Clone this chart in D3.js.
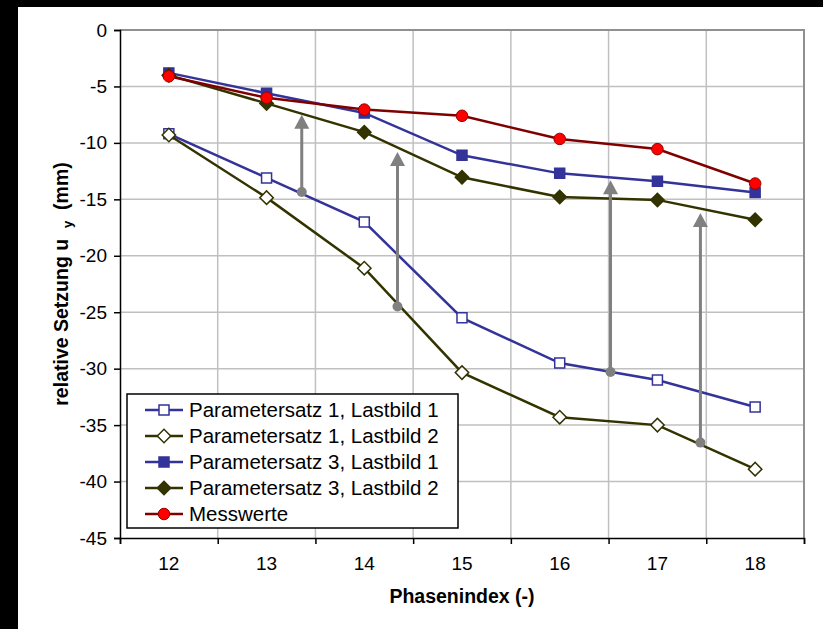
<!DOCTYPE html>
<html>
<head>
<meta charset="utf-8">
<script src="https://cdn.jsdelivr.net/npm/d3@7"></script>
<style>
  html, body { margin: 0; background: #fff; overflow: hidden; }
  svg { display: block; }
</style>
</head>
<body>
<svg id="chart"></svg>
<script>
// Chart data
const phases = [12, 13, 14, 15, 16, 17, 18];
const ps1lb1 = [-9.2, -13.1, -17.0, -25.5, -29.5, -31.0, -33.4];
const ps1lb2 = [-9.3, -14.85, -21.1, -30.35, -34.3, -35.0, -38.9];
const ps3lb1 = [-3.8, -5.6, -7.35, -11.1, -12.7, -13.4, -14.4];
const ps3lb2 = [-4.0, -6.5, -9.05, -13.05, -14.8, -15.05, -16.8];
const messwerte = [-4.1, -6.0, -7.05, -7.6, -9.65, -10.55, -13.6];
const seriesNames = ['Parametersatz 1, Lastbild 1', 'Parametersatz 1, Lastbild 2',
    'Parametersatz 3, Lastbild 1', 'Parametersatz 3, Lastbild 2', 'Messwerte'];
const yTicks = [0, -5, -10, -15, -20, -25, -30, -35, -40, -45];
// arrows: position on phase axis, start value (dot), end value (tip)
const arrowX = [13.36, 14.34, 16.52, 17.44];
const arrowFrom = [-14.35, -24.5, -30.3, -36.55];
const arrowTo = [-7.5, -10.8, -13.3, -16.2];

const width = 823, height = 629;
const margin = { top: 30, right: 19, bottom: 91, left: 120 };

const svg = d3.select('#chart').attr('width', width).attr('height', height);
svg.append('rect').attr('width', width).attr('height', height).attr('fill', '#000');
svg.append('rect').attr('x', 18).attr('y', 7).attr('width', width - 18).attr('height', height - 7).attr('fill', '#fff');

const x = d3.scaleLinear()
    .domain([11.5, 18.5])
    .range([margin.left, width - margin.right]);
const y = d3.scaleLinear()
    .domain([-45, 0])
    .range([height - margin.bottom, margin.top]);
const bounds = d3.range(11.5, 18.6, 1);

// Grid
const grid = svg.append('g').attr('stroke', '#c0c0c0').attr('stroke-width', 1.5);
grid.selectAll('.hg')
    .data(yTicks.filter(d => d > -45 && d < 0))
    .join('line')
    .attr('x1', x(11.5)).attr('x2', x(18.5))
    .attr('y1', d => y(d)).attr('y2', d => y(d));
grid.selectAll('.vg')
    .data(bounds.slice(1, -1))
    .join('line')
    .attr('y1', y(0)).attr('y2', y(-45))
    .attr('x1', d => x(d)).attr('x2', d => x(d));

// plot border top/right
svg.append('path')
    .attr('d', `M${x(11.5)},${y(0)}H${x(18.5)}V${y(-45)}`)
    .attr('fill', 'none').attr('stroke', '#909090').attr('stroke-width', 2);

// Axes
const yAxis = svg.append('g')
    .attr('transform', `translate(${margin.left},0)`)
    .call(d3.axisLeft(y).tickValues(yTicks).tickSize(6).tickPadding(7).tickFormat(d3.format('d')));
yAxis.select('.domain').attr('stroke-width', 1.5);
yAxis.selectAll('.tick line').attr('stroke-width', 1.5);
yAxis.selectAll('text').style('font', '19px "Liberation Sans", Arial, sans-serif').attr('fill', '#000')
    .text(d => d === 0 ? '0' : '-' + Math.abs(d));

const xAxis = svg.append('g')
    .attr('transform', `translate(0,${y(-45)})`)
    .call(d3.axisBottom(x).tickValues(bounds).tickSize(6).tickFormat(''));
xAxis.select('.domain').attr('stroke-width', 1.5);
xAxis.selectAll('.tick line').attr('stroke-width', 1.5);

svg.append('g')
    .selectAll('text')
    .data(phases)
    .join('text')
    .attr('x', d => x(d))
    .attr('y', 570)
    .attr('text-anchor', 'middle')
    .style('font', '19px "Liberation Sans", Arial, sans-serif')
    .text(d => d);

// Axis titles
svg.append('text')
    .attr('x', (x(11.5) + x(18.5)) / 2)
    .attr('y', 603)
    .attr('text-anchor', 'middle')
    .style('font', 'bold 19.5px "Liberation Sans", Arial, sans-serif')
    .text('Phasenindex (-)');
const yt = svg.append('text')
    .attr('transform', `translate(68,${(y(0) + y(-45)) / 2}) rotate(-90)`)
    .attr('text-anchor', 'middle')
    .style('font', 'bold 19.5px "Liberation Sans", Arial, sans-serif')
    .attr('xml:space', 'preserve');
yt.append('tspan').text('relative Setzung u\u00a0\u00a0');
yt.append('tspan').attr('font-size', '13px').attr('dy', 4).text('y');
yt.append('tspan').attr('dy', -4).text('\u00a0\u00a0(mm)');

// Series
const series = [
    { name: seriesNames[0], values: ps1lb1, color: '#333399', marker: 'square', fill: '#fff' },
    { name: seriesNames[1], values: ps1lb2, color: '#333300', marker: 'diamond', fill: '#fff' },
    { name: seriesNames[2], values: ps3lb1, color: '#333399', marker: 'square', fill: '#333399' },
    { name: seriesNames[3], values: ps3lb2, color: '#333300', marker: 'diamond', fill: '#333300' },
    { name: seriesNames[4], values: messwerte, color: '#800000', marker: 'circle', fill: '#ff0000' }
];
const sizes = { square: 100, diamond: 90, circle: 105 };

function marker(sel, s) {
    const type = s.marker === 'circle' ? d3.symbolCircle : d3.symbolSquare;
    sel.attr('d', d3.symbol().type(type).size(sizes[s.marker])())
        .attr('fill', s.fill)
        .attr('stroke', s.marker === 'circle' ? '#990000' : s.color)
        .attr('stroke-width', s.marker === 'circle' ? 1 : 1.5);
}

const line = d3.line().x((d, i) => x(phases[i])).y(d => y(d));
series.forEach(s => {
    const g = svg.append('g');
    g.append('path')
        .attr('d', line(s.values))
        .attr('fill', 'none')
        .attr('stroke', s.color)
        .attr('stroke-width', 2.5);
    g.selectAll('path.m')
        .data(s.values)
        .join('path')
        .attr('class', 'm')
        .attr('transform', (d, i) => `translate(${x(phases[i])},${y(d)})` + (s.marker === 'diamond' ? ' rotate(45)' : ''))
        .call(marker, s);
});

// Arrows
const arrows = svg.append('g');
arrowX.forEach((ax, i) => {
    const px = x(ax);
    const y0 = y(arrowFrom[i]), y1 = y(arrowTo[i]);
    arrows.append('line')
        .attr('x1', px).attr('x2', px)
        .attr('y1', y0).attr('y2', y1 + 12)
        .attr('stroke', '#808080').attr('stroke-width', 3);
    arrows.append('path')
        .attr('d', `M${px},${y1}L${px - 7.5},${y1 + 14}L${px + 7.5},${y1 + 14}Z`)
        .attr('fill', '#808080');
    arrows.append('circle')
        .attr('cx', px).attr('cy', y0).attr('r', 5)
        .attr('fill', '#808080');
});

// Legend
const legend = svg.append('g');
legend.append('rect')
    .attr('x', 127).attr('y', 394).attr('width', 331).attr('height', 134)
    .attr('fill', '#fff').attr('stroke', '#000').attr('stroke-width', 1.5);
series.forEach((s, i) => {
    const ly = 410 + i * 26;
    legend.append('line')
        .attr('x1', 145).attr('x2', 183).attr('y1', ly).attr('y2', ly)
        .attr('stroke', s.color).attr('stroke-width', 2.5);
    legend.append('path')
        .attr('transform', `translate(164,${ly})` + (s.marker === 'diamond' ? ' rotate(45)' : ''))
        .call(marker, s);
    legend.append('text')
        .attr('x', 189).attr('y', ly + 7)
        .style('font', '20.5px "Liberation Sans", Arial, sans-serif')
        .text(s.name);
});
</script>
</body>
</html>
